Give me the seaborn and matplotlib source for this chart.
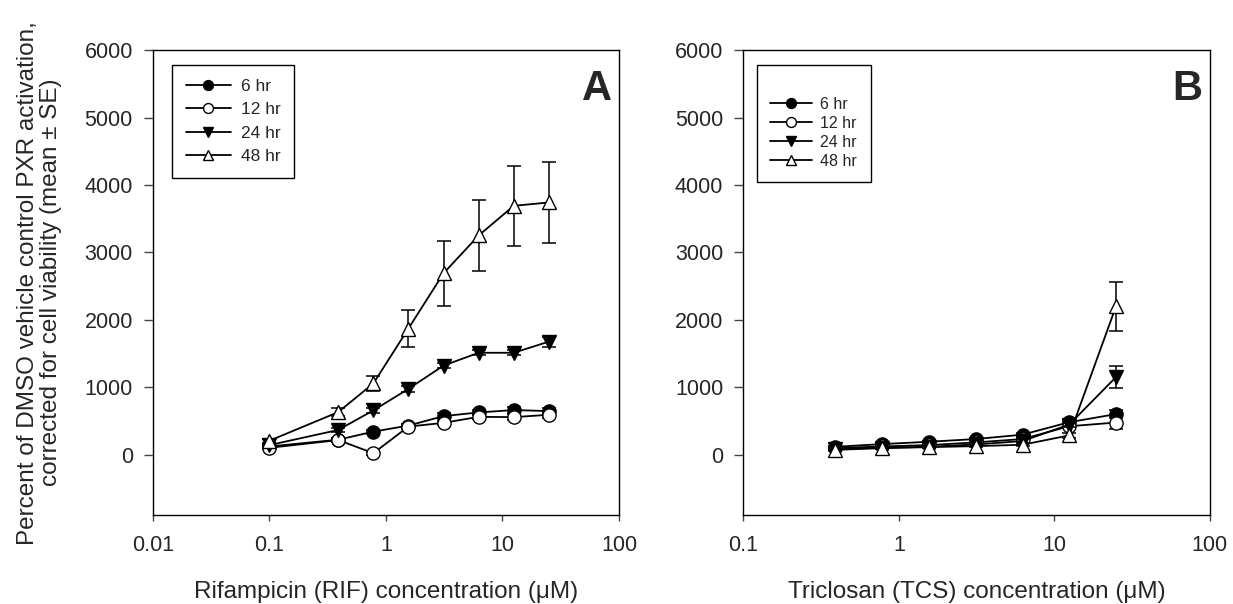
import matplotlib
matplotlib.use("Agg")
import matplotlib.pyplot as plt
import seaborn as sns
import numpy as np
import pandas as pd

sns.set_style("ticks")
plt.rcParams['font.family'] = ['Liberation Sans', 'DejaVu Sans']

# ---- data ----
series_labels = ["6 hr", "12 hr", "24 hr", "48 hr"]

rif_conc = [0.1, 0.39, 0.78, 1.56, 3.125, 6.25, 12.5, 25]
rif_6 = [120, 220, 340, 430, 570, 625, 660, 645]
rif_12 = [100, 215, 20, 415, 470, 560, 555, 590]
rif_24 = [140, 365, 655, 975, 1320, 1510, 1510, 1675]
rif_48 = [205, 630, 1055, 1870, 2690, 3250, 3690, 3740]
rif_6_se = [20, 30, 30, 30, 40, 40, 40, 40]
rif_12_se = [20, 30, 20, 40, 30, 40, 40, 50]
rif_24_se = [20, 30, 40, 40, 40, 40, 40, 75]
rif_48_se = [30, 60, 110, 280, 480, 525, 595, 600]

tcs_conc = [0.39, 0.78, 1.56, 3.125, 6.25, 12.5, 25]
tcs_6 = [115, 155, 190, 230, 295, 480, 600]
tcs_12 = [95, 120, 140, 180, 230, 420, 475]
tcs_24 = [85, 100, 115, 150, 200, 445, 1150]
tcs_48 = [70, 95, 110, 125, 145, 285, 2200]
tcs_6_se = [15, 15, 15, 20, 25, 30, 60]
tcs_12_se = [15, 15, 15, 20, 25, 30, 95]
tcs_24_se = [15, 15, 15, 20, 25, 30, 160]
tcs_48_se = [15, 15, 15, 20, 25, 40, 360]

styles = [
    dict(marker='o', markerfacecolor='black'),
    dict(marker='o', markerfacecolor='white'),
    dict(marker='v', markerfacecolor='black'),
    dict(marker='^', markerfacecolor='white'),
]
msizes = [9.5, 9.5, 10.5, 10.5]

fig = plt.figure(figsize=(12.33, 6.04), dpi=100)
axA = fig.add_axes([0.124, 0.147, 0.378, 0.770])
axB = fig.add_axes([0.603, 0.147, 0.378, 0.770])

def draw(ax, conc, vals, errs):
    for i, (lab, v, e) in enumerate(zip(series_labels, vals, errs)):
        df = pd.DataFrame({"conc": conc, "val": v})
        ax.errorbar(conc, v, yerr=e, fmt='none', ecolor='black',
                    elinewidth=1.1, capsize=4.7, capthick=1.1, zorder=2 + i)
        sns.lineplot(data=df, x="conc", y="val", ax=ax, color='black',
                     linewidth=1.3, markersize=msizes[i],
                     markeredgecolor='black', markeredgewidth=1.0,
                     zorder=3 + i, label=lab, **styles[i])
    ax.get_legend().remove()

draw(axA, rif_conc, [rif_6, rif_12, rif_24, rif_48],
     [rif_6_se, rif_12_se, rif_24_se, rif_48_se])
draw(axB, tcs_conc, [tcs_6, tcs_12, tcs_24, tcs_48],
     [tcs_6_se, tcs_12_se, tcs_24_se, tcs_48_se])

for ax, xlim, xticks, xlabels, panel in [
        (axA, (0.01, 100), [0.01, 0.1, 1, 10, 100], ["0.01", "0.1", "1", "10", "100"], "A"),
        (axB, (0.1, 100), [0.1, 1, 10, 100], ["0.1", "1", "10", "100"], "B")]:
    ax.set_xscale('log')
    ax.set_xlim(*xlim)
    ax.set_ylim(-900, 6000)
    ax.set_xticks(xticks)
    ax.set_xticklabels(xlabels)
    ax.xaxis.set_minor_locator(matplotlib.ticker.NullLocator())
    ax.set_yticks([0, 1000, 2000, 3000, 4000, 5000, 6000])
    ax.tick_params(axis='y', labelsize=15.5, length=6.5, width=1,
                   direction='out', color='#444444', pad=8)
    ax.tick_params(axis='x', labelsize=15.5, length=4.5, width=1,
                   direction='out', color='#444444', pad=10)
    for s in ax.spines.values():
        s.set_visible(True)
        s.set_linewidth(1.0)
        s.set_color('black')
    ax.set_ylabel("")
    ax.text(0.985, 0.96, panel, transform=ax.transAxes, ha='right', va='top',
            fontsize=30, fontweight='bold')

axA.set_xlabel("Rifampicin (RIF) concentration (\u03bcM)", fontsize=17.5, labelpad=18)
axB.set_xlabel("Triclosan (TCS) concentration (\u03bcM)", fontsize=17.5, labelpad=18)
axA.set_ylabel("Percent of DMSO vehicle control PXR activation,\ncorrected for cell viability (mean \u00b1 SE)",
               fontsize=17.5, labelpad=16, linespacing=1.05)

for ax, lsp, fs, anchor, title, bp in [(axA, 0.47, 12.5, (0.041, 0.968), None, 0.8),
                                       (axB, 0.25, 11.5, (0.028, 0.968), ' ', 0.85)]:
    h, l = ax.get_legend_handles_labels()
    h = h[:4]; l = l[:4]
    leg = ax.legend(h, l, loc='upper left', bbox_to_anchor=anchor, borderaxespad=0,
                    fontsize=fs, frameon=True, fancybox=False, edgecolor='black',
                    framealpha=1, handlelength=2.6, labelspacing=lsp,
                    markerscale=0.75, borderpad=bp, handletextpad=0.55,
                    title=title, title_fontsize=11)
    leg.get_frame().set_linewidth(1.0)

fig.savefig("out.png", dpi=100, facecolor='white')
